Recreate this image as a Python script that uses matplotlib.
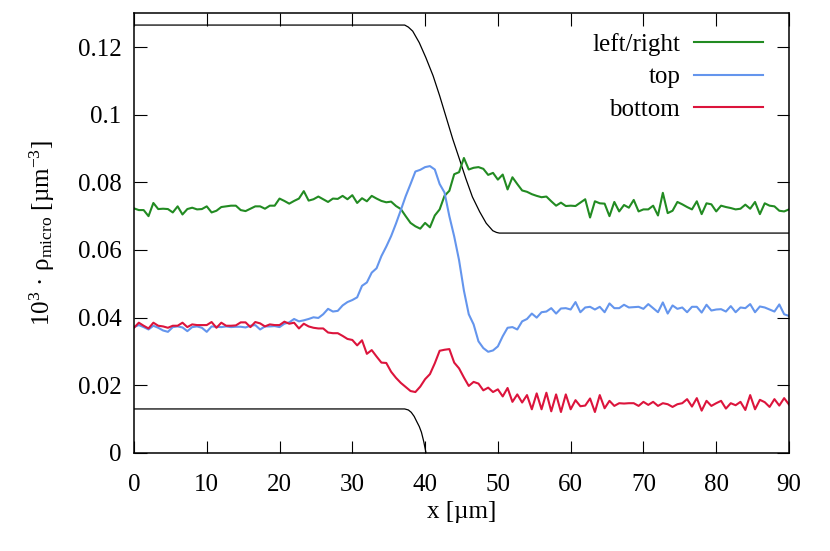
import numpy as np
import matplotlib
matplotlib.use('Agg')
import matplotlib.pyplot as plt

# --- данные ---------------------------------------------------------
x = np.arange(136) * (90 / 135)          # шаг сетки ~0.667 мкм

left_right = [
    0.0723, 0.0718, 0.0718, 0.0700, 0.0739, 0.0721, 0.0722, 0.0721, 0.0711, 0.0729,
    0.0705, 0.0721, 0.0725, 0.0720, 0.0721, 0.0729, 0.0711, 0.0716, 0.0727, 0.0729,
    0.0731, 0.0731, 0.0718, 0.0715, 0.0722, 0.0729, 0.0729, 0.0722, 0.0731, 0.0731,
    0.0752, 0.0745, 0.0737, 0.0745, 0.0752, 0.0774, 0.0746, 0.0750, 0.0758, 0.0750,
    0.0742, 0.0752, 0.0751, 0.0760, 0.0750, 0.0762, 0.0739, 0.0753, 0.0744, 0.0760,
    0.0752, 0.0745, 0.0741, 0.0743, 0.0730, 0.0721, 0.0700, 0.0680, 0.0670, 0.0663,
    0.0680, 0.0667, 0.0702, 0.0720, 0.0760, 0.0775, 0.0824, 0.0830, 0.0872, 0.0838,
    0.0843, 0.0845, 0.0840, 0.0822, 0.0828, 0.0808, 0.0823, 0.0779, 0.0815, 0.0795,
    0.0776, 0.0772, 0.0765, 0.0760, 0.0756, 0.0758, 0.0744, 0.0731, 0.0740, 0.0730,
    0.0731, 0.0730, 0.0740, 0.0750, 0.0696, 0.0744, 0.0738, 0.0737, 0.0700, 0.0742,
    0.0714, 0.0733, 0.0725, 0.0748, 0.0714, 0.0720, 0.0720, 0.0731, 0.0702, 0.0769,
    0.0709, 0.0716, 0.0742, 0.0735, 0.0727, 0.0720, 0.0744, 0.0706, 0.0738, 0.0735,
    0.0714, 0.0731, 0.0727, 0.0724, 0.0720, 0.0722, 0.0734, 0.0722, 0.0742, 0.0706,
    0.0738, 0.0731, 0.0729, 0.0716, 0.0714, 0.0720,
]

top = [
    0.0372, 0.0378, 0.0372, 0.0365, 0.0376, 0.0370, 0.0362, 0.0358, 0.0372, 0.0374,
    0.0371, 0.0360, 0.0372, 0.0374, 0.0370, 0.0358, 0.0374, 0.0373, 0.0372, 0.0374,
    0.0372, 0.0373, 0.0373, 0.0371, 0.0376, 0.0378, 0.0365, 0.0374, 0.0374, 0.0375,
    0.0372, 0.0382, 0.0386, 0.0396, 0.0389, 0.0392, 0.0396, 0.0401, 0.0399, 0.0410,
    0.0426, 0.0418, 0.0420, 0.0436, 0.0446, 0.0452, 0.0460, 0.0494, 0.0504, 0.0533,
    0.0546, 0.0582, 0.0610, 0.0641, 0.0678, 0.0718, 0.0759, 0.0795, 0.0832, 0.0837,
    0.0845, 0.0848, 0.0838, 0.0795, 0.0770, 0.0700, 0.0640, 0.0570, 0.0480, 0.0410,
    0.0380, 0.0330, 0.0310, 0.0299, 0.0303, 0.0315, 0.0345, 0.0370, 0.0372, 0.0365,
    0.0389, 0.0396, 0.0412, 0.0400, 0.0416, 0.0418, 0.0428, 0.0412, 0.0427, 0.0428,
    0.0424, 0.0446, 0.0416, 0.0430, 0.0432, 0.0424, 0.0432, 0.0416, 0.0442, 0.0428,
    0.0428, 0.0438, 0.0430, 0.0431, 0.0432, 0.0426, 0.0440, 0.0428, 0.0416, 0.0445,
    0.0412, 0.0436, 0.0426, 0.0430, 0.0416, 0.0432, 0.0432, 0.0415, 0.0438, 0.0421,
    0.0424, 0.0425, 0.0418, 0.0434, 0.0416, 0.0430, 0.0428, 0.0440, 0.0416, 0.0433,
    0.0430, 0.0424, 0.0418, 0.0439, 0.0410, 0.0405,
]

bottom = [
    0.0370, 0.0385, 0.0376, 0.0368, 0.0385, 0.0376, 0.0374, 0.0370, 0.0376, 0.0376,
    0.0385, 0.0372, 0.0380, 0.0378, 0.0378, 0.0378, 0.0387, 0.0370, 0.0385, 0.0376,
    0.0376, 0.0377, 0.0386, 0.0386, 0.0372, 0.0387, 0.0383, 0.0374, 0.0380, 0.0378,
    0.0378, 0.0388, 0.0382, 0.0385, 0.0368, 0.0382, 0.0374, 0.0370, 0.0368, 0.0368,
    0.0356, 0.0354, 0.0354, 0.0346, 0.0337, 0.0334, 0.0318, 0.0333, 0.0293, 0.0304,
    0.0285, 0.0267, 0.0266, 0.0240, 0.0222, 0.0207, 0.0195, 0.0183, 0.0180, 0.0196,
    0.0218, 0.0233, 0.0265, 0.0302, 0.0305, 0.0307, 0.0267, 0.0250, 0.0223, 0.0198,
    0.0210, 0.0205, 0.0185, 0.0193, 0.0180, 0.0188, 0.0167, 0.0192, 0.0151, 0.0173,
    0.0149, 0.0171, 0.0129, 0.0176, 0.0129, 0.0178, 0.0123, 0.0173, 0.0121, 0.0173,
    0.0129, 0.0156, 0.0138, 0.0140, 0.0161, 0.0121, 0.0171, 0.0132, 0.0154, 0.0139,
    0.0147, 0.0146, 0.0147, 0.0147, 0.0139, 0.0151, 0.0142, 0.0151, 0.0139, 0.0147,
    0.0144, 0.0136, 0.0144, 0.0147, 0.0159, 0.0137, 0.0162, 0.0125, 0.0154, 0.0139,
    0.0147, 0.0154, 0.0131, 0.0147, 0.0141, 0.0151, 0.0127, 0.0171, 0.0129, 0.0157,
    0.0150, 0.0136, 0.0159, 0.0140, 0.0162, 0.0143,
]

# чёрные профили (верхний и нижний)
prof_hi_x = [0, 37.2, 37.7, 38.3, 39.2, 40.1, 41.1, 42.0, 42.9, 43.8, 44.7,
             45.6, 46.5, 47.5, 48.4, 49.3, 49.8, 50.2, 90]
prof_hi_y = [0.1265, 0.1265, 0.1259, 0.1247, 0.1213, 0.1169, 0.1115, 0.1056,
             0.0992, 0.0928, 0.0870, 0.0811, 0.0757, 0.0713, 0.0679, 0.0657,
             0.0652, 0.0650, 0.0650]
prof_lo_x = [0, 37.2, 37.7, 38.1, 38.5, 38.8, 39.2, 39.5, 39.8, 40.1, 40.3]
prof_lo_y = [0.0130, 0.0130, 0.0127, 0.0120, 0.0108, 0.0095, 0.0078, 0.0061,
             0.0035, 0.0003, -0.0020]

xticks = [0, 10, 20, 30, 40, 50, 60, 70, 80, 90]
yticks = [0, 0.02, 0.04, 0.06, 0.08, 0.1, 0.12]
ytick_labels = ['0', '0.02', '0.04', '0.06', '0.08', '0.1', '0.12']

# --- оформление ------------------------------------------------------
plt.rcParams['font.family'] = ['Liberation Serif', 'DejaVu Serif']
plt.rcParams['mathtext.fontset'] = 'custom'
plt.rcParams['mathtext.rm'] = 'Liberation Serif'
plt.rcParams['mathtext.it'] = 'Liberation Serif:italic'
plt.rcParams['font.size'] = 18

fig = plt.figure(figsize=(8.3, 5.51), dpi=100)
ax = fig.add_axes([0.1614, 0.178, 0.7892, 0.798])

ax.plot(prof_hi_x, prof_hi_y, color='black', linewidth=0.9)
ax.plot(prof_lo_x, prof_lo_y, color='black', linewidth=0.9)
ax.plot(x, left_right, color='#228B22', linewidth=1.5, label='left/right')
ax.plot(x, top, color='#6495ED', linewidth=1.5, label='top')
ax.plot(x, bottom, color='#DC143C', linewidth=1.5, label='bottom')

ax.set_xlim(0, 90)
ax.set_ylim(0, 0.13)
ax.set_xticks(xticks)
ax.set_yticks(yticks)
ax.set_yticklabels(ytick_labels)
ax.tick_params(direction='in', length=9, width=0.8, top=True, right=True)
ax.tick_params(axis='x', pad=15.5)       # подписи оси x ниже
ax.tick_params(axis='y', pad=9)
for s in ax.spines.values():
    s.set_linewidth(1.1)

ax.set_xlabel('x [µm]', labelpad=3)
ax.set_ylabel('10$^{3}$ · ρ$_{\\mathrm{micro}}$ [µm$^{-3}$]', labelpad=15)

ax.legend(loc='upper right', frameon=False, markerfirst=False,
          handlelength=2.75, handletextpad=0.55, labelspacing=0.4,
          borderpad=0, borderaxespad=0, bbox_to_anchor=(0.96, 0.955))

plt.savefig('out.png', dpi=100)
